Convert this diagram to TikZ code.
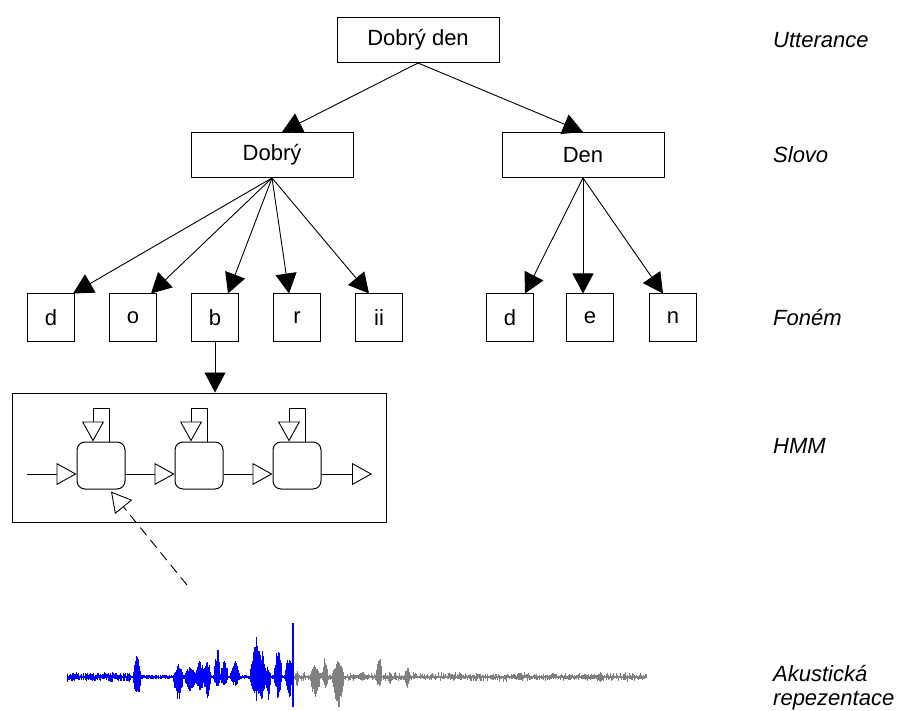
\documentclass[tikz,border=0pt]{standalone}
\usepackage{fontspec}
\setmainfont{Liberation Sans}
\usetikzlibrary{arrows.meta}
\definecolor{wgray}{RGB}{128,128,128}
\definecolor{wblue}{RGB}{0,0,255}
\begin{document}
\begin{tikzpicture}[x=1pt,y=-1pt,
  txt/.style={font=\fontsize{22}{26}\selectfont},
  wbox/.style={draw, line width=1pt, minimum width=162pt, minimum height=45pt, inner sep=0pt, txt},
  ph/.style={draw, line width=1pt, minimum width=47pt, minimum height=48pt, inner sep=0pt, txt},
  arr/.style={line width=0.9pt, -{Triangle[length=20pt,width=21pt]}},
  oarr/.style={line width=0.9pt, -{Triangle[open,length=20pt,width=22pt,fill=white]}},
  state/.style={draw, line width=1pt, rounded corners=8pt, minimum width=48pt, minimum height=47pt, inner sep=0pt},
  lab/.style={anchor=west, inner sep=0pt, align=left, font=\fontsize{22}{24}\selectfont\itshape}]
\useasboundingbox[fill=white] (0,0) rectangle (897,711);

% tree
\node[wbox] (utt) at (418,40) {Dobrý den};
\node[wbox] (w1) at (272,155) {Dobrý};
\node[wbox] (w2) at (583,155) {Den};
\node[ph] (p1) at (51,318) {d};
\node[ph] (p2) at (133,318) {o};
\node[ph] (p3) at (215,318) {b};
\node[ph] (p4) at (297,318) {r};
\node[ph] (p5) at (379,318) {ii};
\node[ph] (p6) at (510,318) {d};
\node[ph] (p7) at (590,318) {e};
\node[ph] (p8) at (673,318) {n};

\draw[arr] (utt.south) -- ([xshift=10pt]w1.north);
\draw[arr] (utt.south) -- (w2.north);
\draw[arr] (w1.south) -- ([xshift=22pt]p1.north);
\draw[arr] (w1.south) -- ([xshift=18pt]p2.north);
\draw[arr] (w1.south) -- ([xshift=13pt]p3.north);
\draw[arr] (w1.south) -- ([xshift=-8pt]p4.north);
\draw[arr] (w1.south) -- ([xshift=-10pt]p5.north);
\draw[arr] (w2.south) -- ([xshift=15pt]p6.north);
\draw[arr] (w2.south) -- ([xshift=-7pt]p7.north);
\draw[arr] (w2.south) -- ([xshift=-10pt]p8.north);

% HMM
\node[draw, line width=1pt, minimum width=374pt, minimum height=129pt, inner sep=0pt] (hmm) at (199,457.5) {};
\draw[arr] (p3.south) -- (p3.south |- hmm.north);
\node[state] (s1) at (101,465.5) {};
\node[state] (s2) at (199,465.5) {};
\node[state] (s3) at (297,465.5) {};
\coordinate (in) at (27,474);
\coordinate (out) at (372,474);
\draw[oarr] (in) -- (s1.west |- in);
\draw[oarr] (s1.east |- in) -- (s2.west |- in);
\draw[oarr] (s2.east |- in) -- (s3.west |- in);
\draw[oarr] (s3.east |- in) -- (out);
\foreach \s in {s1,s2,s3}{
  \draw[oarr] ([xshift=8pt]\s.north) -- ([xshift=8pt,yshift=33pt]\s.north) -- ([xshift=-8pt,yshift=33pt]\s.north) -- ([xshift=-8pt]\s.north);
}
\coordinate (wtop) at (187,585);
\draw[oarr, dash pattern=on 10pt off 6pt] (wtop) -- ([xshift=10pt,yshift=-2pt]s1.south);

% waveform
\pgfmathsetseed{11}
\draw[wblue, line width=0.8pt] (67,677) -- (293,677);
\draw[wgray, line width=0.8pt] (293,677) -- (647,677);
\foreach \x in {67,67.7,...,130}{
  \pgfmathsetmacro\up{0.8+4*rnd}\pgfmathsetmacro\dn{0.8+4*rnd}
  \draw[wblue, line width=1pt] (\x,677-\up) -- (\x,677+\dn);
}
\foreach \x in {130,130.7,...,292}{
  \pgfmathsetmacro\up{0.4+2*rnd}\pgfmathsetmacro\dn{0.4+2*rnd}
  \draw[wblue, line width=1pt] (\x,677-\up) -- (\x,677+\dn);
}
\foreach \x in {294,294.7,...,647}{
  \pgfmathsetmacro\up{0.8+4.5*rnd*rnd}\pgfmathsetmacro\dn{0.8+4*rnd*rnd}
  \draw[wgray, line width=1pt] (\x,677-\up) -- (\x,677+\dn);
}
\foreach \c/\w/\u/\d/\col in {137/4/23/24/wblue, 152/1.5/4/3/wblue, 178/5/14/26/wblue, 190/6/12/18/wblue,
   200/5/18/16/wblue, 207/4/22/24/wblue, 217/3/35/14/wblue, 224/4/22/12/wblue, 235/5/17/10/wblue,
   256/6/45/25/wblue, 262/4/30/25/wblue, 268/3/12/23/wblue, 278/4/35/23/wblue, 289/4/27/23/wblue,
   297/2/8/10/wgray, 315/5/14/26/wgray, 325/3/24/14/wgray, 338/6/19/33/wgray, 362/4/6/5/wgray,
   379/3/25/13/wgray, 390/2/6/8/wgray, 407/3/12/13/wgray, 460/3/5/4/wgray, 520/4/5/4/wgray, 600/4/5/5/wgray}{
  \pgfmathsetmacro\xa{\c-\w}\pgfmathsetmacro\xb{\c-\w+0.5}\pgfmathsetmacro\xe{\c+\w}
  \foreach \x in {\xa,\xb,...,\xe}{
    \pgfmathsetmacro\f{(1-abs(\x-\c)/\w)^0.6}
    \pgfmathsetmacro\up{\u*\f*(0.5+0.5*rnd)}\pgfmathsetmacro\dn{\d*\f*(0.5+0.5*rnd)}
    \draw[\col, line width=1pt] (\x,677-\up) -- (\x,677+\dn);
  }
}
\coordinate (vt) at (293,623);
\coordinate (vb) at (293,707);
\draw[wblue, line width=2pt] (vt) -- (vb);

% level labels
\node[lab] (l1) at (773,40) {Utterance};
\node[lab] (l2) at (773,155) {Slovo};
\node[lab] (l3) at (773,318) {Foném};
\node[lab] (l4) at (773,446) {HMM};
\node[lab] (l5) at (773,688) {Akustická\\repezentace};
\end{tikzpicture}
\end{document}
